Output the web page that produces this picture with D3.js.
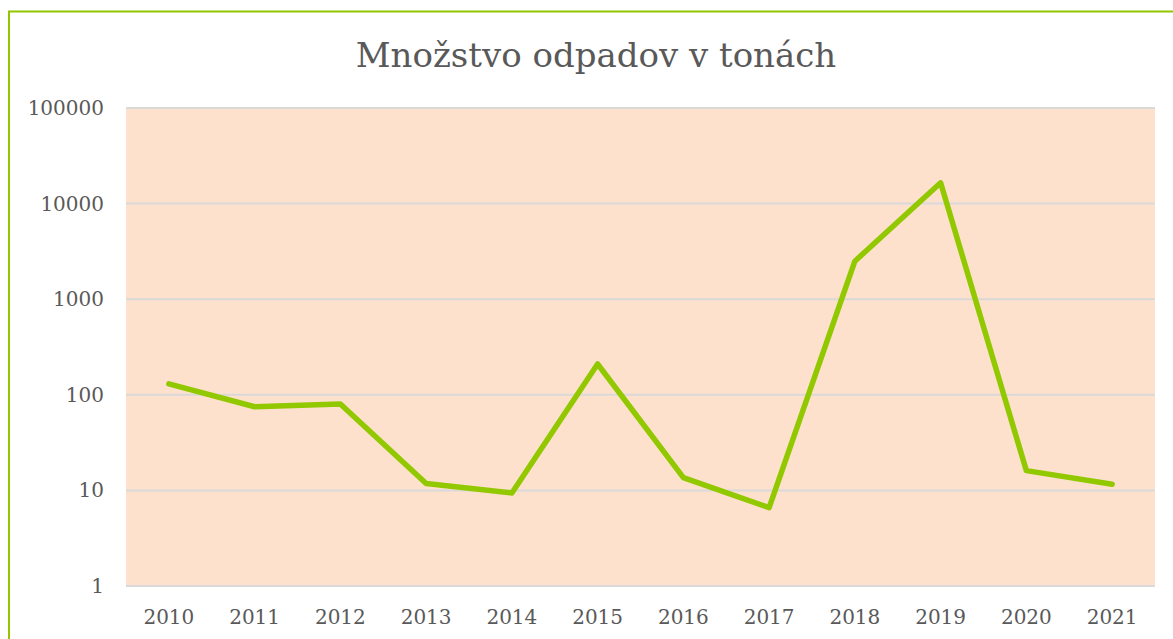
<!DOCTYPE html>
<html>
<head>
<meta charset="utf-8">
<script src="https://cdn.jsdelivr.net/npm/d3@7"></script>
<style>
    body { margin: 0; background: #fff; }
    svg { display: block; }
    text { font-family: "DejaVu Serif", serif; fill: #595959; }
</style>
</head>
<body>
<svg id="chart"></svg>
<script>
const years = ["2010", "2011", "2012", "2013", "2014", "2015", "2016", "2017", "2018", "2019", "2020", "2021"];
const tons = [130, 75, 80, 11.8, 9.4, 210, 13.6, 6.6, 2500, 16500, 16.1, 11.6];
const yTicks = [1, 10, 100, 1000, 10000, 100000];
const title = "Množstvo odpadov v tonách";

const width = 1173;
const height = 639;
const plot = { left: 126, right: 1155, top: 108, bottom: 586 };

const svg = d3.select("#chart")
    .attr("width", width)
    .attr("height", height);

// outer frame (only left and top edges visible)
svg.append("rect")
    .attr("x", 9)
    .attr("y", 11.5)
    .attr("width", width + 20)
    .attr("height", height + 20)
    .attr("fill", "#fff")
    .attr("stroke", "#92C600")
    .attr("stroke-width", 2);

svg.append("text")
    .attr("x", 596)
    .attr("y", 67)
    .attr("text-anchor", "middle")
    .style("font-size", "34px")
    .text(title);

const xScale = d3.scaleBand()
    .domain(years)
    .range([plot.left, plot.right]);

const yScale = d3.scaleLog()
    .domain([1, 100000])
    .range([plot.bottom, plot.top]);

// plot background
svg.append("rect")
    .attr("x", plot.left)
    .attr("y", plot.top)
    .attr("width", plot.right - plot.left)
    .attr("height", plot.bottom - plot.top)
    .attr("fill", "#FDE1CC");

// gridlines
svg.selectAll(".grid")
    .data(yTicks)
    .join("line")
    .attr("class", "grid")
    .attr("x1", plot.left)
    .attr("x2", plot.right)
    .attr("y1", d => yScale(d))
    .attr("y2", d => yScale(d))
    .attr("stroke", "#D9D9D9")
    .attr("stroke-width", 2);

// y axis labels
const yAxis = svg.append("g")
    .attr("transform", `translate(${plot.left - 22}, 0)`)
    .call(d3.axisLeft(yScale).tickValues(yTicks).tickFormat(d3.format("d")).tickSize(0).tickPadding(0));
yAxis.select(".domain").remove();
yAxis.selectAll("text")
    .style("font-size", "20px")
    .style("font-family", "\"DejaVu Serif\", serif")
    .attr("fill", "#595959");

// x axis labels
const xAxis = svg.append("g")
    .attr("transform", `translate(0, ${plot.bottom})`)
    .call(d3.axisBottom(xScale).tickSize(0).tickPadding(24));
xAxis.select(".domain").remove();
xAxis.selectAll("text")
    .style("font-size", "20px")
    .style("font-family", "\"DejaVu Serif\", serif")
    .attr("fill", "#595959");

// line
const line = d3.line()
    .x((d, i) => xScale(years[i]) + xScale.bandwidth() / 2)
    .y(d => yScale(d));

svg.append("path")
    .datum(tons)
    .attr("d", line)
    .attr("fill", "none")
    .attr("stroke", "#92C800")
    .attr("stroke-width", 5.5)
    .attr("stroke-linecap", "round")
    .attr("stroke-linejoin", "round");
</script>
</body>
</html>
